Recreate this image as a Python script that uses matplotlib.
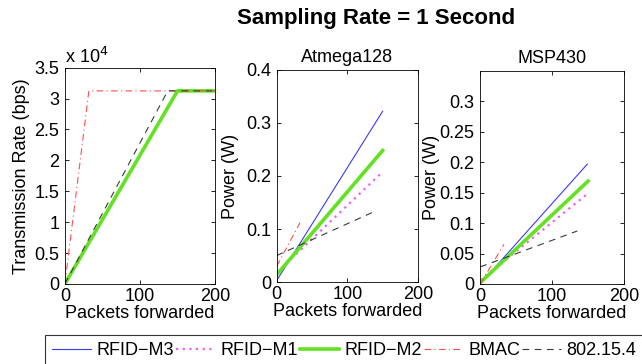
import numpy as np
import matplotlib
matplotlib.use("Agg")
import matplotlib.pyplot as plt
from matplotlib.ticker import FuncFormatter

plt.rcParams["font.family"] = ["Liberation Sans", "DejaVu Sans"]

series_names = ["RFID\u2212M3", "RFID\u2212M1", "RFID\u2212M2", "BMAC", "802.15.4"]

# Transmission rate (bps) vs packets forwarded
rate_x = {
    "RFID\u2212M3": [0, 150, 200],
    "RFID\u2212M1": [0, 150, 200],
    "RFID\u2212M2": [0, 150, 200],
    "BMAC":        [0, 32, 200],
    "802.15.4":    [0, 137, 200],
}
rate_y = {
    "RFID\u2212M3": [0, 31250, 31250],
    "RFID\u2212M1": [0, 31250, 31250],
    "RFID\u2212M2": [0, 31250, 31250],
    "BMAC":        [0, 31250, 31250],
    "802.15.4":    [0, 31250, 31250],
}

# Power (W) - Atmega128
atm_x = {
    "RFID\u2212M3": [0, 150],
    "RFID\u2212M1": [0, 147],
    "RFID\u2212M2": [0, 150],
    "BMAC":        [0, 33],
    "802.15.4":    [0, 135],
}
atm_y = {
    "RFID\u2212M3": [0.003, 0.322],
    "RFID\u2212M1": [0.018, 0.204],
    "RFID\u2212M2": [0.014, 0.248],
    "BMAC":        [0.030, 0.112],
    "802.15.4":    [0.050, 0.131],
}

# Power (W) - MSP430
msp_x = {
    "RFID\u2212M3": [0, 149],
    "RFID\u2212M1": [0, 148],
    "RFID\u2212M2": [0, 150],
    "BMAC":        [0, 33],
    "802.15.4":    [0, 135],
}
msp_y = {
    "RFID\u2212M3": [0.0, 0.197],
    "RFID\u2212M1": [0.006, 0.147],
    "RFID\u2212M2": [0.002, 0.169],
    "BMAC":        [0.0, 0.065],
    "802.15.4":    [0.028, 0.087],
}

styles = {
    "RFID\u2212M3": dict(color="#3a3aff", lw=0.8, ls="-"),
    "RFID\u2212M1": dict(color="#f060f0", lw=1.6, ls=(0, (1, 2))),
    "RFID\u2212M2": dict(color="#62e222", lw=2.6, ls="-"),
    "BMAC":        dict(color="#ff5050", lw=0.8, ls=(0, (6, 3, 1, 3))),
    "802.15.4":    dict(color="#3a3a3a", lw=0.8, ls=(0, (6, 5))),
}

fig = plt.figure(figsize=(6.42, 3.64), dpi=100)
ax1 = fig.add_axes([0.101, 0.220, 0.234, 0.594])
ax2 = fig.add_axes([0.431, 0.225, 0.220, 0.583])
ax3 = fig.add_axes([0.748, 0.220, 0.224, 0.585])

FS = 13
handles = []
for name in series_names:
    h, = ax1.plot(rate_x[name], rate_y[name], label=name, **styles[name])
    handles.append(h)
for ax, xs, ys in [(ax2, atm_x, atm_y), (ax3, msp_x, msp_y)]:
    for name in series_names:
        ax.plot(xs[name], ys[name], **styles[name])

ax1.set_ylim(0, 35000)
ax1.set_yticks(np.arange(0, 35001, 5000))
ax1.yaxis.set_major_formatter(FuncFormatter(lambda v, p: f"{v/1e4:g}"))
ax1.set_ylabel("Transmission Rate (bps)", fontsize=FS, labelpad=3)
ax1.text(0.0, 1.005, "x 10$^4$", transform=ax1.transAxes, fontsize=FS,
         ha="left", va="bottom")

ax2.set_ylim(0, 0.4)
ax2.set_yticks([0, 0.1, 0.2, 0.3, 0.4])
ax2.yaxis.set_major_formatter(FuncFormatter(lambda v, p: f"{v:g}"))
ax2.set_ylabel("Power (W)", fontsize=FS, labelpad=5)
ax2.set_title("Atmega128", fontsize=FS, pad=6)

ax3.set_ylim(0, 0.35)
ax3.set_yticks([0, 0.05, 0.1, 0.15, 0.2, 0.25, 0.3])
ax3.yaxis.set_major_formatter(FuncFormatter(lambda v, p: f"{v:g}"))
ax3.set_ylabel("Power (W)", fontsize=FS, labelpad=0)
ax3.set_title("MSP430", fontsize=FS, pad=6)

for ax in (ax1, ax2, ax3):
    ax.set_xlim(0, 200)
    ax.set_xticks([0, 100, 200])
    ax.set_xlabel("Packets forwarded", fontsize=FS, labelpad=0)
    ax.tick_params(direction="in", top=True, right=True, labelsize=FS,
                   length=3, width=0.6)
    ax.tick_params(axis="x", pad=3)
    ax.tick_params(axis="y", pad=4)
    for s in ax.spines.values():
        s.set_linewidth(0.6)

fig.text(0.585, 0.95, "Sampling Rate = 1 Second", fontsize=16,
         fontweight="bold", ha="center", va="center")

leg = fig.legend(handles=handles, labels=series_names, loc="upper left",
                 bbox_to_anchor=(0.070, 0.080), ncol=5, fontsize=FS,
                 frameon=True, fancybox=False, handlelength=2.15,
                 handletextpad=0.3, columnspacing=0.12, borderpad=0.4,
                 borderaxespad=0)
leg.get_frame().set_edgecolor("black")
leg.get_frame().set_linewidth(0.8)

fig.savefig("out.png", dpi=100)
